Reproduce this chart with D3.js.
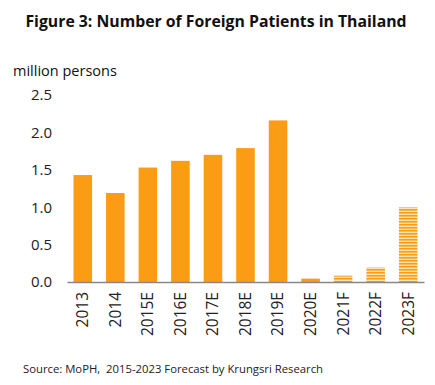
<!DOCTYPE html>
<html>
<head>
<meta charset="utf-8">
<script src="https://cdn.jsdelivr.net/npm/d3@7"></script>
<style>
  body { margin: 0; background: #fff; }
  text { font-family: "Open Sans", sans-serif; }
</style>
</head>
<body>
<script>
// Canvas setup
const canvasWidth = 435;
const canvasHeight = 385;

// Data
const years = ["2013", "2014", "2015E", "2016E", "2017E", "2018E", "2019E", "2020E", "2021F", "2022F", "2023F"];
const patients = [1.43, 1.19, 1.53, 1.62, 1.70, 1.79, 2.16, 0.045, 0.085, 0.195, 1.0];
const forecast = [false, false, false, false, false, false, false, false, true, true, true];
const yTicks = [0, 0.5, 1.0, 1.5, 2.0, 2.5];

const orange = "#fa9d14";

const svg = d3.select('body')
    .append('svg')
    .attr('width', canvasWidth)
    .attr('height', canvasHeight);

// striped fill for forecast bars
const pat = svg.append('defs').append('pattern')
    .attr('id', 'stripes')
    .attr('patternUnits', 'userSpaceOnUse')
    .attr('width', 4)
    .attr('height', 3);
pat.append('rect').attr('width', 4).attr('height', 3).attr('fill', '#fde3b0');
pat.append('rect').attr('width', 4).attr('height', 1.6).attr('fill', orange);

let margins = { top: 95, bottom: 103, left: 67, right: 11 };
let plotWidth = canvasWidth - margins.left - margins.right;
let plotHeight = canvasHeight - margins.top - margins.bottom;

// Title
svg.append('text')
    .attr('x', 216)
    .attr('y', 27)
    .attr('text-anchor', 'middle')
    .attr('font-size', 15.8)
    .attr('font-weight', 'bold')
    .attr('fill', '#111')
    .text('Figure 3: Number of Foreign Patients in Thailand');

svg.append('text')
    .attr('x', 13)
    .attr('y', 76)
    .attr('font-size', 14.5)
    .attr('fill', '#111')
    .text('million persons');

let plotGroup = svg.append('g')
    .attr('transform', `translate(${margins.left},${margins.top})`);

let xScale = d3.scaleBand()
    .domain(years)
    .range([0, plotWidth])
    .paddingInner(0.43)
    .paddingOuter(0.2);

let yScale = d3.scaleLinear()
    .domain([0, 2.5])
    .range([plotHeight, 0]);

// bars
plotGroup.selectAll('rect.bar')
    .data(years)
    .enter()
    .append('rect')
    .classed('bar', true)
    .attr('x', (d) => xScale(d))
    .attr('width', xScale.bandwidth())
    .attr('y', (d, i) => yScale(patients[i]))
    .attr('height', (d, i) => plotHeight - yScale(patients[i]))
    .attr('fill', (d, i) => forecast[i] ? 'url(#stripes)' : orange);

// y axis (labels only)
let yAxis = plotGroup.append('g')
    .call(d3.axisLeft(yScale).tickValues(yTicks).tickFormat(d3.format('.1f')).tickSize(0).tickPadding(15));
yAxis.select('.domain').remove();
yAxis.selectAll('text')
    .attr('font-size', 15)
    .attr('fill', '#222')
    .style('font-family', '"Open Sans", sans-serif');

// x axis
let xAxis = plotGroup.append('g')
    .attr('transform', `translate(0,${plotHeight})`)
    .call(d3.axisBottom(xScale).tickSize(0));
xAxis.select('.domain')
    .attr('stroke', '#888')
    .attr('stroke-width', 1.5);
xAxis.selectAll('text')
    .attr('font-size', 15.5)
    .attr('fill', '#222')
    .style('font-family', '"Open Sans", sans-serif')
    .attr('transform', 'rotate(-90)')
    .attr('text-anchor', 'end')
    .attr('dy', '0.35em')
    .attr('x', -10)
    .attr('y', 0);

// Source note
svg.append('text')
    .attr('x', 23)
    .attr('y', 373)
    .attr('font-size', 11.3)
    .attr('fill', '#222')
    .style('white-space', 'pre')
    .text('Source: MoPH,  2015-2023 Forecast by Krungsri Research');
</script>
</body>
</html>
